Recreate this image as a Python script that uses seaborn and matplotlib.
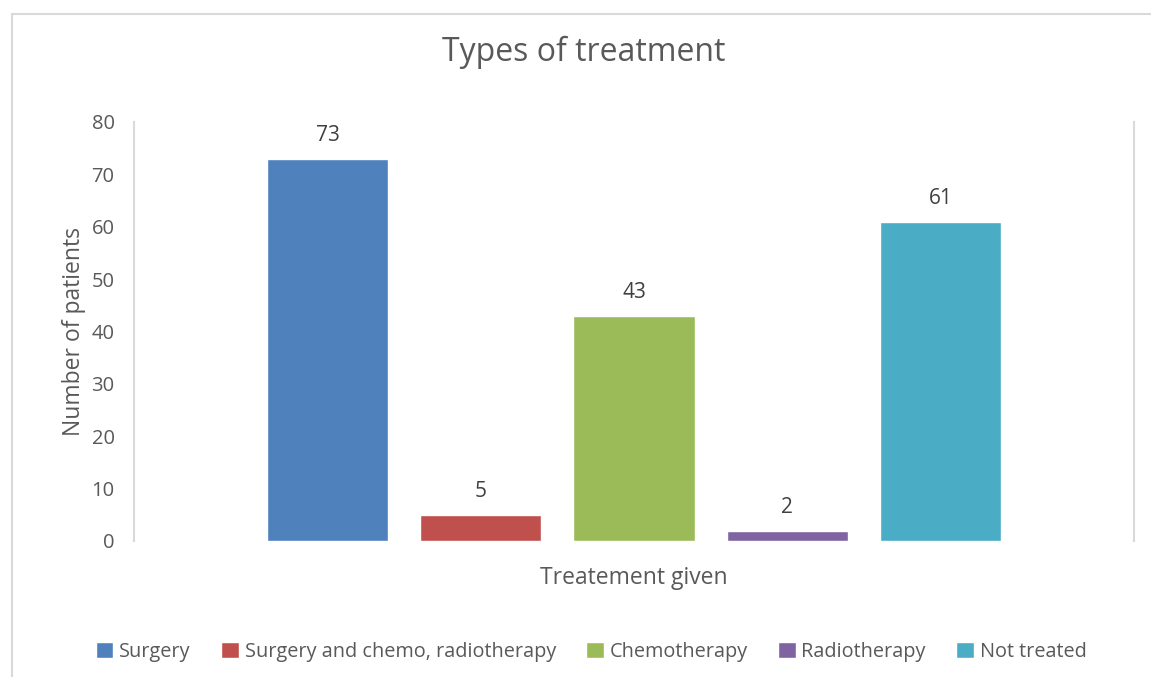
import pandas as pd
import matplotlib.pyplot as plt
import seaborn as sns
from matplotlib.patches import Rectangle

treatments = ['Surgery', 'Surgery and chemo, radiotherapy', 'Chemotherapy',
              'Radiotherapy', 'Not treated']
patients = [73, 5, 43, 2, 61]
colors = ['#4F81BD', '#C0504D', '#9BBB59', '#8064A2', '#4BACC6']
yticks = [0, 10, 20, 30, 40, 50, 60, 70, 80]

data = pd.DataFrame({'group': ['Treatement given'] * len(treatments),
                     'treatment': treatments,
                     'patients': patients})

sns.set_style('white')
plt.rcParams['font.family'] = ['Open Sans', 'DejaVu Sans']
text_color = '#595959'

fig = plt.figure(figsize=(11.51, 6.77), dpi=100)
ax = fig.add_axes([0.1164, 0.2009, 0.8688, 0.6189])

sns.barplot(data=data, x='group', y='patients', hue='treatment',
            hue_order=treatments, palette=colors, width=0.8, gap=0.21,
            saturation=1, legend=True, ax=ax)

for c in ax.containers:
    ax.bar_label(c, padding=9, fontsize=15, color='#404040')

ax.set_xlim(-0.522, 0.522)
ax.set_ylim(0, 80)
ax.set_yticks(yticks)
ax.set_xticks([])
ax.tick_params(axis='y', length=0, labelsize=14.5, labelcolor=text_color, pad=14)
ax.set_xlabel('Treatement given', fontsize=16.5, color=text_color, labelpad=18)
ax.set_ylabel('Number of patients', fontsize=16.5, color=text_color, labelpad=4)

fig.text(584 / 1151, 1 - 52 / 677, 'Types of treatment', fontsize=23,
         color=text_color, ha='center', va='center')

for side in ['left', 'right']:
    ax.spines[side].set_visible(True)
    ax.spines[side].set_color('#d9d9d9')
    ax.spines[side].set_linewidth(1.5)
for side in ['top', 'bottom']:
    ax.spines[side].set_visible(False)

handles, labels = ax.get_legend_handles_labels()
ax.legend_.remove()
fig.legend(handles, labels, loc='center', bbox_to_anchor=(591 / 1151, 1 - 652 / 677),
           ncol=5, frameon=False, fontsize=14.3, labelcolor=text_color,
           handlelength=0.9, handleheight=0.9, handletextpad=0.3,
           columnspacing=1.5)

fig.patches.append(Rectangle((12 / 1151, -0.1), 1.2, 0.1 + 1 - 14 / 677,
                             transform=fig.transFigure, fill=False,
                             edgecolor='#d9d9d9', linewidth=1.5))

fig.savefig('out.png', dpi=100)
